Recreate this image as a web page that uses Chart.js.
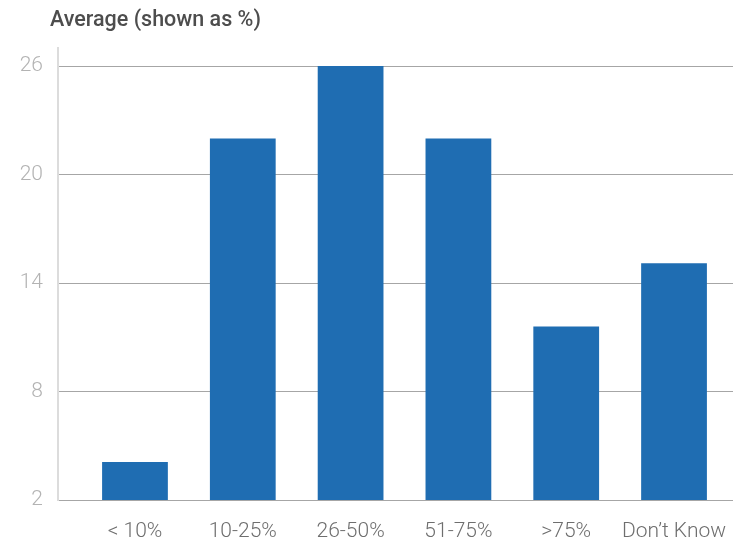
<!DOCTYPE html>
<html>
<head>
<meta charset="utf-8">
<script src="https://cdn.jsdelivr.net/npm/chart.js@4"></script>
<style>
  body { margin: 0; background: #fff; }
  .wrap { position: relative; width: 733px; height: 542px; }
  .chart-title {
    position: absolute;
    left: 50px;
    top: 9px;
    font-family: Roboto, "Liberation Sans", sans-serif;
    font-weight: 500;
    font-size: 21.5px;
    line-height: 20px;
    color: #4d4d4d;
    white-space: nowrap;
  }
</style>
</head>
<body>
<div class="wrap">
  <div class="chart-title">Average (shown as %)</div>
  <canvas id="chart" width="733" height="542"></canvas>
</div>
<script>
// categories on the x axis
const categories = ['< 10%', '10-25%', '26-50%', '51-75%', '>75%', 'Don\u2019t Know'];
// average values (%)
const averages = [4.1, 22, 26, 22, 11.6, 15.1];
// y axis tick labels
const yTicks = [2, 8, 14, 20, 26];

const barColor = '#1f6db2';

// bars are placed on a numeric index axis so the plot can start left of the first slot
const points = categories.map((c, i) => ({ x: i, y: averages[i] }));

new Chart(document.getElementById('chart'), {
    type: 'bar',
    data: {
        datasets: [{
            data: points,
            backgroundColor: barColor,
            borderWidth: 0,
            barPercentage: 0.61,
            categoryPercentage: 1
        }]
    },
    options: {
        responsive: false,
        animation: false,
        layout: {
            padding: { top: 48, left: 0, right: 0, bottom: 0 }
        },
        plugins: {
            legend: { display: false },
            title: { display: false },
            tooltip: { enabled: false }
        },
        scales: {
            x: {
                type: 'linear',
                offset: false,
                min: -0.714,
                max: 5.547,
                afterBuildTicks: function(scale) {
                    scale.ticks = categories.map((c, i) => ({ value: i }));
                },
                afterFit: function(scale) {
                    scale.height = 42;
                    // labels sit well inside the plot, no side padding needed
                    scale.paddingLeft = 0;
                    scale.paddingRight = 0;
                },
                grid: { display: false, drawTicks: false, offset: false },
                border: { display: false },
                ticks: {
                    autoSkip: false,
                    maxRotation: 0,
                    padding: 19,
                    color: '#6e6e6e',
                    font: { family: 'Roboto, "Liberation Sans", sans-serif', size: 21, weight: 300 },
                    callback: function(value) {
                        return categories[value];
                    }
                }
            },
            y: {
                min: 2,
                max: 27,
                afterBuildTicks: function(scale) {
                    scale.ticks = yTicks.map(v => ({ value: v }));
                },
                afterFit: function(scale) {
                    scale.width = 58;
                },
                grid: {
                    color: '#a6a6a6',
                    lineWidth: 1,
                    drawTicks: false
                },
                border: {
                    display: true,
                    color: '#dcdcdc',
                    width: 2
                },
                ticks: {
                    padding: 15,
                    color: '#b3b3b3',
                    font: { family: 'Roboto, "Liberation Sans", sans-serif', size: 21, weight: 300 }
                }
            }
        }
    }
});
</script>
</body>
</html>
